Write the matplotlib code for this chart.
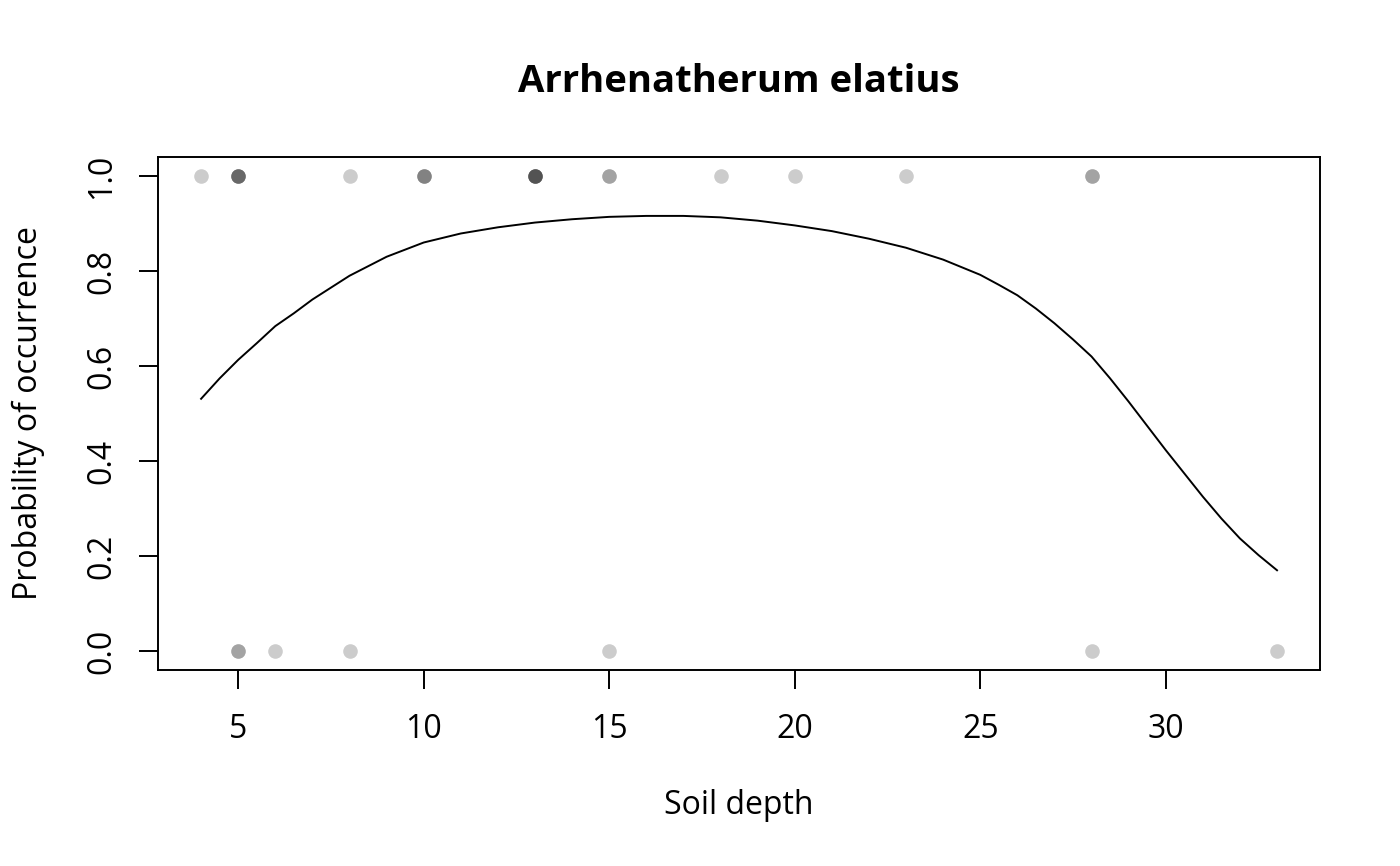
import matplotlib
matplotlib.use("Agg")
import matplotlib.pyplot as plt
import numpy as np

plt.rcParams['font.family'] = ['Open Sans', 'DejaVu Sans']

# observations (soil depth, presence 1 / absence 0), duplicates overlap
depth_present = [4, 5, 5, 5, 5, 8, 10, 10, 10, 13, 13, 13, 13, 13,
                 15, 15, 18, 20, 23, 28, 28]
depth_absent = [5, 5, 6, 8, 15, 28, 33]

# fitted curve
curve_x = [4, 4.5, 5, 5.5, 6, 6.5, 7, 7.5, 8, 9, 10, 11, 12, 13, 14, 15,
           16, 17, 18, 19, 20, 21, 22, 23, 24, 25, 25.5, 26, 26.5, 27,
           27.5, 28, 28.5, 29, 29.5, 30, 30.5, 31, 31.5, 32, 32.5, 33]
curve_y = [0.531, 0.574, 0.613, 0.648, 0.684, 0.711, 0.740, 0.765, 0.790,
           0.830, 0.860, 0.879, 0.892, 0.902, 0.909, 0.914, 0.916, 0.916,
           0.913, 0.906, 0.896, 0.884, 0.868, 0.849, 0.824, 0.792, 0.771,
           0.749, 0.721, 0.690, 0.656, 0.620, 0.574, 0.525, 0.474, 0.423,
           0.374, 0.325, 0.279, 0.237, 0.202, 0.170]

fig = plt.figure(figsize=(14, 8.66), dpi=100)
ax = fig.add_axes([0.1129, 0.2263, 0.83, 0.5924])

ax.plot(depth_present, np.ones(len(depth_present)), 'o', color='black',
        alpha=0.2, markersize=10.5, markeredgewidth=0)
ax.plot(depth_absent, np.zeros(len(depth_absent)), 'o', color='black',
        alpha=0.2, markersize=10.5, markeredgewidth=0)
ax.plot(curve_x, curve_y, color='black', linewidth=1.4)

ax.set_xlim(2.84, 34.16)
ax.set_ylim(-0.04, 1.04)
ax.set_xticks([5, 10, 15, 20, 25, 30])
ax.set_yticks([0.0, 0.2, 0.4, 0.6, 0.8, 1.0])
ax.set_yticklabels(['0.0', '0.2', '0.4', '0.6', '0.8', '1.0'],
                   rotation=90, va='center')
ax.tick_params(direction='out', length=14, width=1.4, labelsize=23)
ax.tick_params(axis='x', pad=17)
ax.tick_params(axis='y', pad=14.5)
for s in ax.spines.values():
    s.set_linewidth(1.4)

ax.set_title('Arrhenatherum elatius', fontsize=27.5, fontweight='bold', pad=46.5)
ax.set_xlabel('Soil depth', fontsize=23, labelpad=31)
ax.set_ylabel('Probability of occurrence', fontsize=23, labelpad=29)

fig.savefig('out.png')
